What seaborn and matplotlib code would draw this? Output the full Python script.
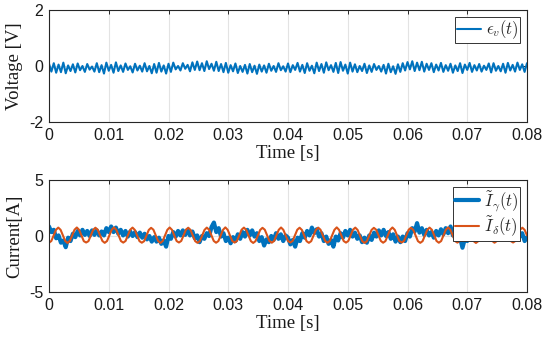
import numpy as np
import pandas as pd
import matplotlib
matplotlib.use("Agg")
import matplotlib.pyplot as plt
import seaborn as sns

# ---------------- data ----------------
t_start, t_end = 0.0, 0.08

voltage_err = [
    0.08, -0.20, 0.10, -0.24, 0.05, -0.22, 0.12, -0.26, 0.02, -0.18,
    0.06, -0.23, 0.09, -0.15, 0.00, -0.21, 0.07, -0.13, -0.02, -0.20,
    0.10, -0.22, 0.03, -0.27, 0.12, -0.17, 0.04, -0.24, 0.13, -0.18,
    0.02, -0.21, 0.09, -0.14, -0.01, -0.23, 0.08, -0.16, 0.01, -0.20,
    0.10, -0.19, 0.00, -0.26, 0.07, -0.24, 0.11, -0.20, 0.02, -0.27,
    0.08, -0.21, 0.12, -0.12, 0.00, -0.16, 0.10, -0.10, 0.04, -0.19,
    0.13, -0.14, 0.16, -0.15, 0.10, -0.18, 0.17, -0.11, 0.08, -0.17,
    0.15, -0.18, 0.07, -0.22, 0.11, -0.24, 0.03, -0.19, 0.09, -0.25,
    0.00, -0.21, 0.04, -0.27, 0.07, -0.22, 0.01, -0.28, 0.05, -0.20,
    0.02, -0.24, 0.08, -0.17, 0.00, -0.21, 0.10, -0.15, -0.01, -0.20,
    0.09, -0.22, 0.03, -0.14, 0.11, -0.20, 0.04, -0.25, 0.10, -0.17,
    0.01, -0.26, 0.12, -0.18, 0.07, -0.24, 0.13, -0.15, 0.03, -0.21,
    0.11, -0.25, 0.14, -0.17, 0.05, -0.27, 0.12, -0.20, 0.06, -0.22,
    0.00, -0.18, 0.08, -0.25, 0.02, -0.21, 0.07, -0.14, 0.00, -0.20,
    0.04, -0.27, 0.08, -0.22, -0.01, -0.28, 0.06, -0.21, 0.10, -0.16,
    0.14, -0.12, 0.17, -0.18, 0.12, -0.15, 0.15, -0.20, 0.08, -0.14,
    0.10, -0.22, 0.05, -0.16, 0.11, -0.21, 0.03, -0.17, 0.08, -0.24,
    0.02, -0.18, 0.10, -0.25, 0.05, -0.14, 0.11, -0.21, 0.03, -0.16,
    0.07, -0.20, 0.01, -0.14, 0.09, -0.23, 0.10, -0.17, 0.00, -0.19,
    0.08, -0.24, 0.11, -0.16, 0.04, -0.20, 0.12, -0.14, 0.06, -0.21,
    0.10,
]

current_gamma = [
    0.85, 0.35, 0.55, -0.20, 0.05, -0.60, -0.40, -1.00, -0.15, -0.45,
    0.20, -0.10, 0.45, 0.05, 0.55, 0.10, 0.45, 0.00, 0.50, 0.10,
    0.50, 0.05, 0.40, 0.05, 0.70, 0.35, 0.85, 0.35, 0.75, 0.20,
    0.55, 0.05, 0.45, -0.05, 0.40, 0.00, 0.35, -0.10, 0.30, -0.15,
    0.20, -0.30, 0.00, -0.50, -0.10, -0.50, -0.15, -0.70, -0.40, -0.95,
    0.00, -0.25, 0.35, -0.05, 0.45, 0.05, 0.50, 0.10, 0.55, 0.05,
    0.40, -0.20, 0.05, -0.55, 0.00, -0.25, 0.25, 0.00, 0.80, 1.20,
    0.35, 0.70, -0.05, 0.25, -0.45, -0.15, -0.65, -0.10, -0.45, 0.15,
    -0.25, 0.35, -0.05, 0.55, 0.05, 0.50, -0.05, 0.25, -0.45, -0.10,
    -0.85, -0.30, -0.55, 0.00, -0.35, 0.25, -0.25, 0.15, -0.45, 0.05,
    -0.15, -0.75, -0.35, -0.95, -0.15, -0.45, 0.25, -0.15, 0.45, 0.05,
    0.75, 0.25, 0.60, -0.05, 0.25, -0.45, -0.05, -0.70, -0.35, -0.95,
    -0.05, -0.40, 0.25, -0.15, 0.45, 0.05, 0.55, -0.05, 0.30, -0.25,
    0.05, -0.55, -0.15, -0.60, 0.05, -0.35, 0.30, -0.05, 0.50, 0.05,
    0.55, 0.00, 0.35, -0.25, 0.15, -0.50, -0.05, -0.55, -0.05, -0.45,
    0.25, -0.05, 0.70, 0.40, 1.15, 0.30, 0.70, 0.10, 0.55, 0.05,
    0.35, -0.15, 0.45, 0.05, 0.60, 0.15, 0.70, 0.25, 0.85, 0.05,
    0.25, -0.45, -0.15, -1.05, -0.25, -0.45, 0.25, -0.05, 0.55, 0.05,
    0.35, -0.20, 0.25, -0.25, 0.20, -0.35, 0.25, -0.25, 0.30, -0.15,
    0.35, -0.10, 0.45, 0.00, 0.55, 0.05, 0.55, -0.05, 0.25, -0.45,
    -0.10,
]

current_delta = [
    -0.60, -0.45, 0.05, 0.55, 0.75, 0.55, 0.05, -0.45,
    -0.62, -0.44, 0.06, 0.56, 0.76, 0.54, 0.04, -0.46,
    -0.58, -0.46, 0.04, 0.54, 0.74, 0.56, 0.06, -0.44,
    -0.61, -0.45, 0.05, 0.55, 0.77, 0.55, 0.05, -0.45,
    -0.59, -0.44, 0.06, 0.56, 0.75, 0.54, 0.04, -0.46,
    -0.60, -0.46, 0.04, 0.54, 0.73, 0.56, 0.06, -0.44,
    -0.62, -0.45, 0.05, 0.55, 0.76, 0.55, 0.05, -0.45,
    -0.58, -0.44, 0.06, 0.56, 0.74, 0.54, 0.04, -0.46,
    -0.61, -0.46, 0.04, 0.54, 0.75, 0.56, 0.06, -0.44,
    -0.60, -0.45, 0.05, 0.55, 0.77, 0.55, 0.05, -0.45,
    -0.59, -0.44, 0.06, 0.56, 0.75, 0.54, 0.04, -0.46,
    -0.62, -0.46, 0.04, 0.54, 0.73, 0.56, 0.06, -0.44,
    -0.60, -0.45, 0.05, 0.55, 0.76, 0.55, 0.05, -0.45,
    -0.58, -0.44, 0.06, 0.56, 0.74, 0.54, 0.04, -0.46,
    -0.61, -0.46, 0.04, 0.54, 0.75, 0.56, 0.06, -0.44,
    -0.60, -0.45, 0.05, 0.55, 0.77, 0.55, 0.05, -0.45,
    -0.59, -0.44, 0.06, 0.56, 0.75, 0.54, 0.04, -0.46,
    -0.62, -0.46, 0.04, 0.54, 0.73, 0.56, 0.06, -0.44,
    -0.60, -0.45, 0.05, 0.55, 0.76, 0.55, 0.05, -0.45,
    -0.58, -0.44, 0.06, 0.56, 0.74, 0.54, 0.04, -0.46,
    -0.61, -0.46, 0.04, 0.54, 0.75, 0.56, 0.06, -0.44,
    -0.60, -0.45, 0.05, 0.55, 0.77, 0.55, 0.05, -0.45,
    -0.59, -0.44, 0.06, 0.56, 0.75, 0.54, 0.04, -0.46,
    -0.62, -0.46, 0.04, 0.54, 0.73, 0.56, 0.06, -0.44,
    -0.60, -0.45, 0.05, 0.55, 0.76, 0.55, 0.05, -0.45,
    -0.58, -0.44, 0.06, 0.56, 0.74, 0.54, 0.05,
]

x_ticks = [0, 0.01, 0.02, 0.03, 0.04, 0.05, 0.06, 0.07, 0.08]
x_tick_labels = ["0", "0.01", "0.02", "0.03", "0.04", "0.05", "0.06", "0.07", "0.08"]
v_ticks = [-2, 0, 2]
i_ticks = [-5, 0, 5]

label_v = r"$\epsilon_v(t)$"
label_g = r"$\tilde{I}_\gamma(t)$"
label_d = r"$\tilde{I}_\delta(t)$"

# ---------------- build frames ----------------
t_v = np.linspace(t_start, t_end, len(voltage_err))
t_g = np.linspace(t_start, t_end, len(current_gamma))
t_d = np.linspace(t_start, t_end, len(current_delta))
df_v = pd.DataFrame({"t": t_v, "v": voltage_err})
df_g = pd.DataFrame({"t": t_g, "i": current_gamma})
df_d = pd.DataFrame({"t": t_d, "i": current_delta})

# ---------------- style ----------------
sns.set_theme(style="white")
plt.rcParams["font.family"] = ["Liberation Sans", "DejaVu Sans"]
plt.rcParams["mathtext.fontset"] = "cm"
plt.rcParams["axes.unicode_minus"] = False

BLUE = "#0072BD"
ORANGE = "#D95319"
SPINE = "#262626"
GRID = "#e3e3e3"

fig = plt.figure(figsize=(5.5, 3.39), dpi=100)
ax1 = fig.add_axes([49 / 550, 1 - 122 / 339, 478 / 550, 112 / 339])
ax2 = fig.add_axes([49 / 550, 1 - 292 / 339, 478 / 550, 112 / 339])

sns.lineplot(data=df_v, x="t", y="v", ax=ax1, color=BLUE, linewidth=1.5,
             estimator=None, label=label_v)
sns.lineplot(data=df_g, x="t", y="i", ax=ax2, color=BLUE, linewidth=3.0,
             estimator=None, label=label_g)
sns.lineplot(data=df_d, x="t", y="i", ax=ax2, color=ORANGE, linewidth=1.5,
             estimator=None, label=label_d)

serif = ["Liberation Serif", "DejaVu Serif"]
for ax, yt, ylab in [(ax1, v_ticks, "Voltage [V]"), (ax2, i_ticks, "Current[A]")]:
    ax.set_xlim(t_start, t_end)
    ax.set_ylim(yt[0], yt[-1])
    ax.set_xticks(x_ticks)
    ax.set_xticklabels(x_tick_labels)
    ax.set_yticks(yt)
    ax.set_yticklabels([str(v) for v in yt])
    ax.grid(True, color=GRID, linewidth=0.8)
    ax.set_axisbelow(True)
    for s in ax.spines.values():
        s.set_color(SPINE)
        s.set_linewidth(0.8)
    ax.tick_params(direction="in", length=3, width=0.7, color=SPINE,
                   top=True, right=True, labelsize=11.5, labelcolor="#1a1a1a",
                   pad=4)
    ax.set_xlabel("Time [s]", family=serif, fontsize=13.5, color="#1a1a1a", labelpad=2)
    ax.set_ylabel(ylab, family=serif, fontsize=13.5, color="#1a1a1a", labelpad=4.5)

for ax in (ax1, ax2):
    leg = ax.legend(loc="upper right", fontsize=12, frameon=True, fancybox=False,
                    borderaxespad=0.4, handlelength=1.4, handletextpad=0.3,
                    borderpad=0.12, labelspacing=0.05, framealpha=1)
    leg.get_frame().set_edgecolor("#333333")
    leg.get_frame().set_linewidth(0.7)

fig.savefig("out.png", dpi=100)
